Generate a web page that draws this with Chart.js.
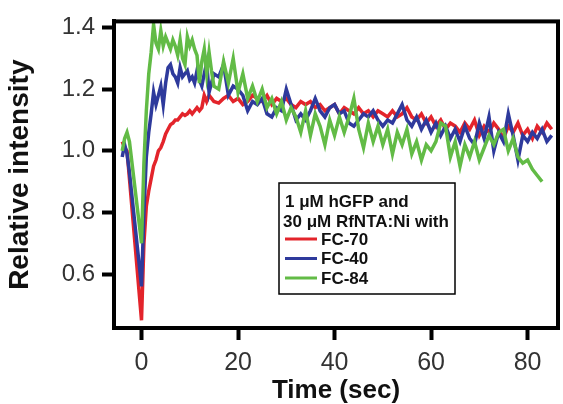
<!DOCTYPE html>
<html>
<head>
<meta charset="utf-8">
<script src="https://cdn.jsdelivr.net/npm/chart.js@4"></script>
<style>
  html, body { margin: 0; padding: 0; background: #fff; }
  #wrap { width: 563px; height: 404px; }
</style>
</head>
<body>
<div id="wrap"><canvas id="c"></canvas></div>
<script>
// time axis (sec), finer sampling around the injection dip
const time = [-4, -3.5, -3, -2.5, 0, 0.5, 1, 1.5, 2, 2.5, 3, 3.5, 4, 4.5, 5, 5.5, 6, 6.5, 7, 7.5, 8, 8.5, 9, 9.5, 10, 10.5, 11, 11.5, 12, 12.5, 13, 13.5, 14, 14.5, 15,
  16, 17, 18, 19, 20, 21, 22, 23, 24, 25, 26, 27, 28, 29, 30, 31, 32, 33, 34, 35, 36, 37, 38, 39, 40,
  41, 42, 43, 44, 45, 46, 47, 48, 49, 50, 51, 52, 53, 54, 55, 56, 57, 58, 59, 60,
  61, 62, 63, 64, 65, 66, 67, 68, 69, 70, 71, 72, 73, 74, 75, 76, 77, 78, 79, 80, 81, 82, 83, 84, 85];

const fc70 = [1.03, 1.01, 1.00, 0.91, 0.45, 0.70, 0.82, 0.87, 0.91, 0.95, 0.97, 1.00, 1.01, 1.03, 1.055, 1.07, 1.085, 1.09, 1.10, 1.10, 1.11, 1.12, 1.115, 1.12, 1.13, 1.12, 1.13, 1.14, 1.13, 1.14, 1.18, 1.16, 1.18, 1.17, 1.16,
  1.155, 1.17, 1.18, 1.16, 1.17, 1.15, 1.16, 1.18, 1.17, 1.16, 1.18, 1.15, 1.17, 1.16, 1.17, 1.15, 1.14, 1.16, 1.15, 1.16, 1.14, 1.15, 1.13, 1.14, 1.15,
  1.12, 1.14, 1.13, 1.12, 1.14, 1.12, 1.13, 1.11, 1.13, 1.12, 1.11, 1.13, 1.11, 1.12, 1.14, 1.11, 1.10, 1.12, 1.09, 1.11,
  1.08, 1.10, 1.07, 1.09, 1.08, 1.06, 1.09, 1.07, 1.10, 1.05, 1.08, 1.06, 1.09, 1.07, 1.04, 1.08, 1.06, 1.09, 1.05, 1.07, 1.04, 1.08, 1.06, 1.09, 1.07];

const fc40 = [0.98, 1.02, 0.99, 0.93, 0.56, 0.80, 0.98, 1.06, 1.12, 1.19, 1.15, 1.18, 1.21, 1.15, 1.22, 1.27, 1.28, 1.25, 1.24, 1.22, 1.27, 1.24, 1.25, 1.26, 1.23, 1.24, 1.22, 1.26, 1.23, 1.21, 1.25, 1.285, 1.19, 1.22, 1.25,
  1.24, 1.28, 1.18, 1.21, 1.20, 1.18, 1.13, 1.16, 1.15, 1.17, 1.12, 1.11, 1.14, 1.13, 1.20, 1.15, 1.10, 1.12, 1.10, 1.13, 1.17, 1.13, 1.11, 1.14, 1.15,
  1.12, 1.13, 1.09, 1.08, 1.10, 1.12, 1.11, 1.13, 1.10, 1.08, 1.10, 1.09, 1.12, 1.15, 1.10, 1.08, 1.11, 1.07, 1.10, 1.06,
  1.09, 1.05, 1.08, 1.04, 1.07, 1.03, 1.08, 1.04, 1.02, 1.09, 1.04, 1.11, 1.00, 1.06, 1.03, 1.12, 1.05, 0.97, 1.05, 1.03, 1.06, 1.04, 1.07, 1.03, 1.05];

const fc84 = [1.00, 1.04, 1.06, 1.03, 0.70, 0.96, 1.13, 1.25, 1.32, 1.41, 1.35, 1.33, 1.39, 1.34, 1.37, 1.35, 1.33, 1.36, 1.34, 1.31, 1.36, 1.30, 1.28, 1.37, 1.34, 1.36, 1.33, 1.31, 1.22, 1.29, 1.33, 1.25, 1.32, 1.26, 1.21,
  1.20, 1.29, 1.22, 1.30, 1.19, 1.25, 1.17, 1.21, 1.16, 1.20, 1.14, 1.17, 1.12, 1.16, 1.10, 1.14, 1.11, 1.06, 1.13, 1.05, 1.12, 1.08, 1.02, 1.10, 1.05,
  1.11, 1.06, 1.11, 1.17, 1.07, 1.01, 1.09, 1.03, 1.08, 1.02, 1.07, 0.99, 1.06, 1.02, 1.07, 0.99, 1.03, 0.97, 1.02, 1.00,
  1.03, 1.09, 1.08, 0.98, 1.03, 0.95, 1.02, 0.98, 1.03, 0.97, 1.01, 1.05, 1.02, 1.06, 1.07, 1.00, 1.04, 0.98, 0.96, 0.97, 0.94, 0.92, 0.90, null, null];

const seriesLabels = ['FC-70', 'FC-40', 'FC-84'];
const seriesColors = ['#e3242b', '#2e3a9c', '#62bb46'];
const legendTitle = ['1 \u03BCM hGFP and', '30 \u03BCM RfNTA:Ni with'];

const xTicks = [0, 20, 40, 60, 80];
const yTicks = [0.6, 0.8, 1.0, 1.2, 1.4];

const FONT = '"Liberation Sans", Arial, Helvetica, sans-serif';

const toPoints = (vals) => vals.map((v, i) => ({ x: time[i], y: v }));

// black frame around the plot + boxed legend inside it
const framePlugin = {
    id: 'frame',
    afterDraw(chart) {
        const { ctx, chartArea: a } = chart;
        ctx.save();
        ctx.strokeStyle = '#000';
        ctx.lineWidth = 4;
        ctx.strokeRect(a.left, a.top, a.right - a.left, a.bottom - a.top);

        const bx = 279, by = 183, bw = 176, bh = 111;
        ctx.fillStyle = '#fff';
        ctx.fillRect(bx, by, bw, bh);
        ctx.lineWidth = 1.5;
        ctx.strokeRect(bx, by, bw, bh);

        ctx.fillStyle = '#111';
        ctx.font = 'bold 17px ' + FONT;
        ctx.textBaseline = 'alphabetic';
        ctx.fillText(legendTitle[0], 285, 207);
        ctx.fillText(legendTitle[1], 283, 227);

        chart.data.datasets.forEach((ds, i) => {
            const y = 239 + i * 19.5;
            ctx.strokeStyle = ds.borderColor;
            ctx.lineWidth = 3;
            ctx.beginPath();
            ctx.moveTo(285, y);
            ctx.lineTo(317, y);
            ctx.stroke();
            ctx.fillStyle = '#111';
            ctx.textBaseline = 'middle';
            ctx.fillText(ds.label, 321, y + 1);
        });
        ctx.restore();
    }
};

new Chart(document.getElementById('c'), {
    type: 'line',
    data: {
        datasets: [fc70, fc40, fc84].map((vals, i) => ({
            label: seriesLabels[i],
            data: toPoints(vals),
            borderColor: seriesColors[i],
            borderWidth: 3.5,
            pointRadius: 0,
            tension: 0,
            fill: false,
            order: 3 - i
        }))
    },
    options: {
        responsive: true,
        maintainAspectRatio: false,
        animation: false,
        layout: { padding: { top: 15, right: 5, left: 0, bottom: 0 } },
        plugins: { legend: { display: false }, tooltip: { enabled: false } },
        scales: {
            x: {
                type: 'linear',
                min: -5.7,
                max: 86.3,
                afterBuildTicks: s => { s.ticks = xTicks.map(v => ({ value: v })); },
                afterFit: s => { s.height = 76; },
                grid: { drawOnChartArea: false, tickLength: 12, tickWidth: 4, tickColor: '#000' },
                border: { display: true, width: 4, color: '#000' },
                ticks: { color: '#333', padding: 8, font: { family: FONT, size: 25 }, callback: v => String(v) },
                title: { display: true, text: 'Time (sec)', color: '#111', padding: { top: 0, bottom: 0 },
                         font: { family: FONT, size: 26, weight: 'bold', lineHeight: 1 } }
            },
            y: {
                min: 0.425,
                max: 1.42,
                afterBuildTicks: s => { s.ticks = yTicks.map(v => ({ value: v })); },
                afterFit: s => { s.width = 114; },
                grid: { drawOnChartArea: false, tickLength: 12, tickWidth: 4, tickColor: '#000' },
                border: { display: true, width: 4, color: '#000' },
                ticks: { color: '#333', padding: 7, font: { family: FONT, size: 24 }, callback: v => v.toFixed(1) },
                title: { display: true, text: 'Relative intensity', color: '#111', padding: { top: 6, bottom: 0 },
                         font: { family: FONT, size: 28, weight: 'bold', lineHeight: 1 } }
            }
        }
    },
    plugins: [framePlugin]
});
</script>
</body>
</html>
